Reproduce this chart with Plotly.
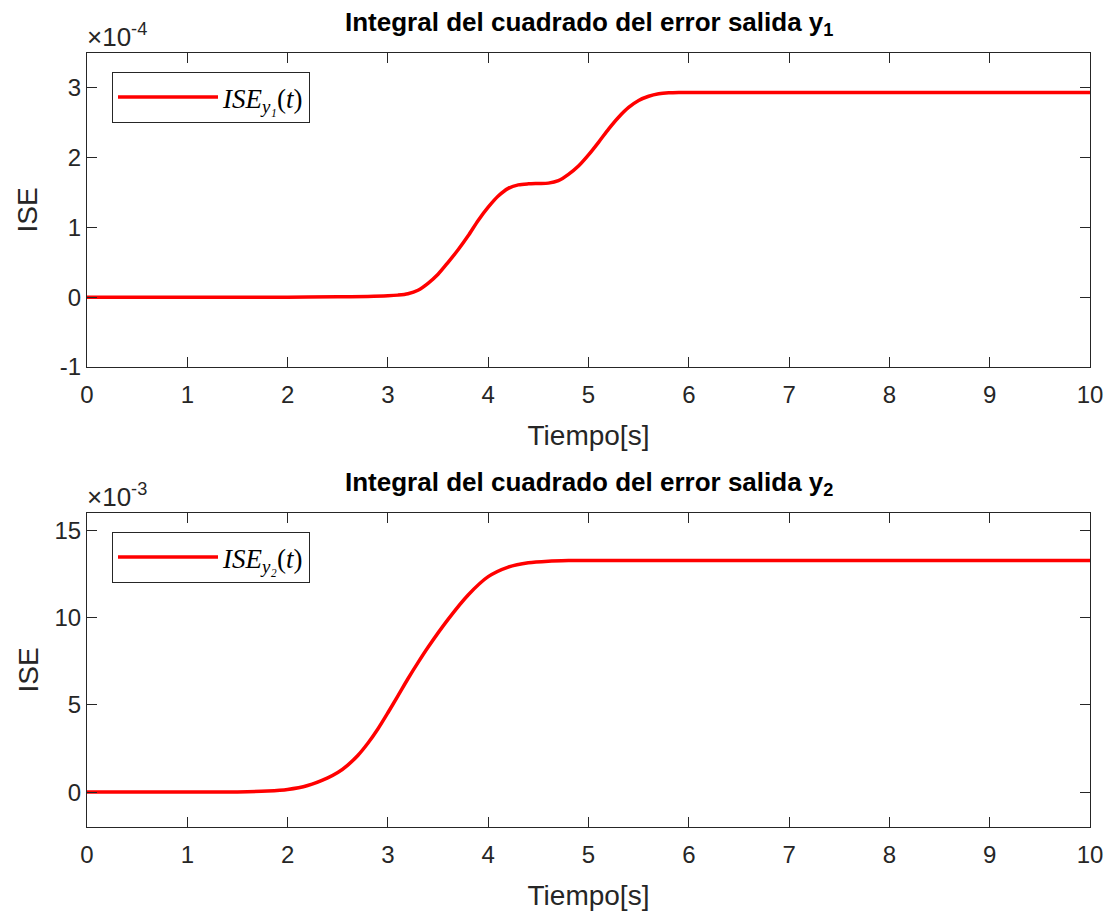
import plotly.graph_objects as go

# ---- data ----
t1 = [0, 1, 2, 2.5, 2.8, 3.0, 3.1, 3.2, 3.3, 3.4, 3.5, 3.6, 3.7, 3.8, 3.9, 4.0, 4.1,
      4.2, 4.3, 4.4, 4.5, 4.6, 4.7, 4.8, 4.9, 5.0, 5.1, 5.2, 5.3, 5.4, 5.5, 5.6, 5.7,
      5.8, 5.9, 6.0, 6.5, 7, 8, 9, 10]
ise1 = [0, 0, 0, 0.005, 0.01, 0.02, 0.03, 0.05, 0.10, 0.20, 0.33, 0.50, 0.68, 0.88,
        1.10, 1.29, 1.45, 1.56, 1.61, 1.625, 1.63, 1.635, 1.67, 1.76, 1.88, 2.04, 2.22,
        2.41, 2.58, 2.72, 2.82, 2.88, 2.915, 2.93, 2.935, 2.935, 2.935, 2.935, 2.935,
        2.935, 2.935]  # x1e-4

t2 = [0, 1, 1.5, 1.8, 2.0, 2.2, 2.4, 2.5, 2.6, 2.7, 2.8, 2.9, 3.0, 3.1, 3.2, 3.3, 3.4,
      3.6, 3.8, 4.0, 4.2, 4.4, 4.6, 4.8, 5.0, 6, 7, 8, 9, 10]
ise2 = [0, 0, 0.01, 0.06, 0.15, 0.38, 0.82, 1.12, 1.55, 2.10, 2.80, 3.62, 4.55, 5.52,
        6.50, 7.42, 8.30, 9.90, 11.30, 12.35, 12.90, 13.15, 13.24, 13.27, 13.28, 13.28,
        13.28, 13.28, 13.28, 13.28]  # x1e-3

x_ticks = [0, 1, 2, 3, 4, 5, 6, 7, 8, 9, 10]
y1_ticks = [-1, 0, 1, 2, 3]
y1_ticktext = ["-1", "0", "1", "2", "3"]
y2_ticks = [0, 5, 10, 15]

titles = ["Integral del cuadrado del error salida y<sub>1</sub>",
          "Integral del cuadrado del error salida y<sub>2</sub>"]
exponents = ["×10<sup>-4</sup>", "×10<sup>-3</sup>"]
legend_names = ["<i>ISE<sub>y₁</sub></i>(<i>t</i>)", "<i>ISE<sub>y₂</sub></i>(<i>t</i>)"]

W, H = 1109, 918
ML, MR, MT, MB = 87, 19, 53, 91
area_h = H - MT - MB
area_w = W - ML - MR
top_dom = [(827 - 367) / area_h, 1.0]
bot_dom = [0.0, 314 / area_h]

DARK = "#262626"
SANS = "Liberation Sans, Arial, Helvetica"
SERIF = "Liberation Serif, Times New Roman, serif"

fig = go.Figure()
fig.add_trace(go.Scatter(x=t1, y=ise1, mode="lines", name=legend_names[0],
                         line=dict(color="#FF0000", width=3.5, shape="spline", smoothing=0.8),
                         xaxis="x", yaxis="y", legend="legend"))
fig.add_trace(go.Scatter(x=t2, y=ise2, mode="lines", name=legend_names[1],
                         line=dict(color="#FF0000", width=3.5, shape="spline", smoothing=0.8),
                         xaxis="x2", yaxis="y2", legend="legend2"))

axis_common = dict(showline=True, linecolor=DARK, linewidth=1, mirror="ticks",
                   ticks="inside", ticklen=10, tickcolor=DARK, tickwidth=1,
                   showgrid=False, zeroline=False, automargin=False,
                   ticklabeloverflow="allow",
                   tickfont=dict(family=SANS, size=24, color=DARK))
title_font = dict(family=SANS, size=28, color=DARK)

legend_common = dict(xanchor="left", yanchor="top", bgcolor="white", bordercolor=DARK,
                     borderwidth=1, font=dict(family=SERIF, size=27, color="black"),
                     itemwidth=100, tracegroupgap=0)

fig.update_layout(
    width=W, height=H,
    margin=dict(l=ML, r=MR, t=MT, b=MB, autoexpand=False),
    paper_bgcolor="white", plot_bgcolor="white",
    showlegend=True,
    xaxis=dict(domain=[0, 1], anchor="y", range=[0, 10], tickvals=x_ticks,
               ticklabelstandoff=6,
               title=dict(text="Tiempo[s]", font=title_font, standoff=18), **axis_common),
    yaxis=dict(domain=top_dom, anchor="x", range=[-1, 3.5], tickvals=y1_ticks,
               ticktext=y1_ticktext,
               title=dict(text="ISE", font=title_font, standoff=14), **axis_common),
    xaxis2=dict(domain=[0, 1], anchor="y2", range=[0, 10], tickvals=x_ticks,
                ticklabelstandoff=6,
                title=dict(text="Tiempo[s]", font=title_font, standoff=18), **axis_common),
    yaxis2=dict(domain=bot_dom, anchor="x2", range=[-2, 16], tickvals=y2_ticks,
                title=dict(text="ISE", font=title_font, standoff=7), **axis_common),
    legend=dict(x=(112 - ML) / area_w, y=(827 - 72) / area_h, **legend_common),
    legend2=dict(x=(112 - ML) / area_w, y=(827 - 532) / area_h, **legend_common),
)

for i, (xr, yr) in enumerate([("x", "y"), ("x2", "y2")]):
    fig.add_annotation(text="<b>" + titles[i] + "</b>", xref=xr + " domain", yref=yr + " domain",
                       x=0.5, y=1, xanchor="center", yanchor="bottom", yshift=11,
                       showarrow=False, font=dict(family=SANS, size=26, color="black"))
    fig.add_annotation(text=exponents[i], xref=xr + " domain", yref=yr + " domain",
                       x=0, y=1, xanchor="left", yanchor="bottom", yshift=-1, xshift=-2,
                       showarrow=False, font=dict(family=SANS, size=26, color=DARK))

fig.write_html("out.html", config={"displayModeBar": False},
               post_script="document.body.style.margin='0';document.body.style.overflow='hidden';")
